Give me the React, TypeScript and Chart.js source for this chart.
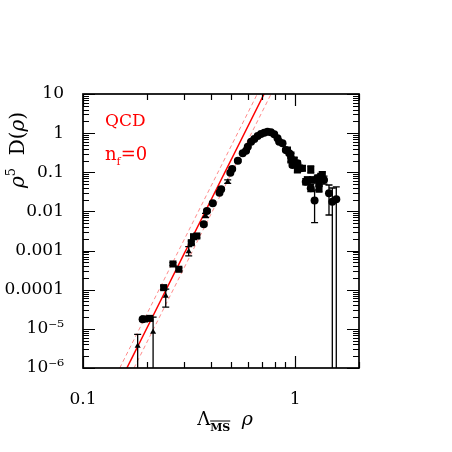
import React, { useEffect, useRef } from "react";
import { Chart, registerables } from "chart.js";

Chart.register(...registerables);

// ---- data ----
const circleX = [0.191, 0.371, 0.384, 0.409, 0.44, 0.448, 0.495, 0.505, 0.537, 0.566, 0.587, 0.598, 0.62, 0.642, 0.666, 0.69, 0.715, 0.741, 0.769, 0.797, 0.826, 0.841, 0.872, 0.904, 0.938, 0.971, 1.025, 1.064, 1.122, 1.185, 1.273, 1.32, 1.368, 1.235, 1.444, 1.497, 1.563];
const circleY = [1.75e-5, 4.7e-3, 0.0103, 0.0161, 0.0301, 0.0368, 0.0977, 0.121, 0.198, 0.305, 0.356, 0.451, 0.605, 0.71, 0.846, 0.95, 1.03, 1.09, 1.05, 0.935, 0.739, 0.605, 0.551, 0.372, 0.305, 0.1536, 0.17, 0.1265, 0.0575, 0.039, 0.0703, 0.0773, 0.0636, 0.019, 0.0291, 0.01774, 0.0204];
const circleLo = [1.6e-5, 4.3e-3, 0.0095, 0.015, 0.028, 0.034, 0.091, 0.113, 0.186, 0.29, 0.34, 0.43, 0.58, 0.68, 0.81, 0.91, 0.99, 1.04, 1.0, 0.89, 0.7, 0.57, 0.52, 0.34, 0.28, 0.135, 0.15, 0.11, 0.048, 0.032, 0.058, 0.064, 0.05, 0.00517, 0.0081, 1e-7, 1e-7];
const circleHi = [1.9e-5, 5.1e-3, 0.0112, 0.0173, 0.0323, 0.04, 0.105, 0.13, 0.21, 0.32, 0.373, 0.47, 0.63, 0.74, 0.88, 0.99, 1.07, 1.14, 1.1, 0.98, 0.78, 0.64, 0.59, 0.41, 0.335, 0.175, 0.195, 0.145, 0.069, 0.048, 0.085, 0.094, 0.08, 0.0353, 0.0474, 0.0397, 0.0422];

const squareX = [0.195, 0.2065, 0.24, 0.2655, 0.283, 0.324, 0.332, 0.344, 0.92, 0.955, 0.989, 1.025, 1.082, 1.185, 1.142, 1.206, 1.296, 1.343, 1.296, 0.955];
const squareY = [1.79e-5, 1.85e-5, 1.13e-4, 4.55e-4, 3.33e-4, 1.59e-3, 2.26e-3, 2.36e-3, 0.37, 0.206, 0.206, 0.1146, 0.1265, 0.118, 0.0636, 0.0636, 0.0524, 0.0853, 0.0386, 0.277];
const squareLo = [1.65e-5, 1.7e-5, 1.02e-4, 4.2e-4, 3.05e-4, 1.45e-3, 2.05e-3, 2.1e-3, 0.34, 0.185, 0.18, 0.1, 0.11, 0.095, 0.053, 0.053, 0.043, 0.07, 0.031, 0.25];
const squareHi = [1.95e-5, 2.0e-5, 1.25e-4, 4.9e-4, 3.6e-4, 1.75e-3, 2.5e-3, 2.6e-3, 0.4, 0.23, 0.235, 0.13, 0.145, 0.145, 0.076, 0.076, 0.064, 0.104, 0.048, 0.305];

const triangleX = [0.181, 0.214, 0.2455, 0.315, 0.378, 0.481];
const triangleY = [3.66e-6, 8.3e-6, 6.9e-5, 9.4e-4, 7.9e-3, 0.0575];
const triangleLo = [1e-7, 1e-7, 3.6e-5, 7.3e-4, 7.0e-3, 0.052];
const triangleHi = [7.2e-6, 2.0e-5, 1.04e-4, 1.26e-3, 8.9e-3, 0.064];

// QCD lines (central and band)
const qcdLineY = [1e-6, 10];
const qcdCentralX = [0.161, 0.714];
const qcdLowerX = [0.149, 0.663];
const qcdUpperX = [0.174, 0.77];

// ticks
const xMajorTicks = [0.1, 1];
const xTickLabels = ["0.1", "1"];
const xMinorTicks = [0.2, 0.3, 0.4, 0.5, 0.6, 0.7, 0.8, 0.9, 2];
const yMajorTicks = [1e-6, 1e-5, 1e-4, 1e-3, 1e-2, 0.1, 1, 10];
const yTickLabels = ["10\u207B\u2076", "10\u207B\u2075", "0.0001", "0.001", "0.01", "0.1", "1", "10"];
const minorMantissas = [2, 3, 4, 5, 6, 7, 8, 9];

const SERIF = "'DejaVu Serif', serif";

const toPoints = (xs: number[], ys: number[]) => xs.map((x, i) => ({ x, y: ys[i] }));

const errorSeries = [
  { x: circleX, lo: circleLo, hi: circleHi },
  { x: squareX, lo: squareLo, hi: squareHi },
  { x: triangleX, lo: triangleLo, hi: triangleHi },
];

type Seg = { text: string; font: string; dy?: number; overline?: boolean };

function measureRich(ctx: CanvasRenderingContext2D, segs: Seg[]) {
  let w = 0;
  for (const s of segs) {
    ctx.font = s.font;
    w += ctx.measureText(s.text).width;
  }
  return w;
}

function drawRich(ctx: CanvasRenderingContext2D, segs: Seg[], x: number, y: number) {
  let cx = x;
  for (const s of segs) {
    ctx.font = s.font;
    const w = ctx.measureText(s.text).width;
    ctx.fillText(s.text, cx, y + (s.dy || 0));
    if (s.overline) {
      const m = ctx.measureText(s.text);
      const top = y + (s.dy || 0) - m.actualBoundingBoxAscent - 2;
      ctx.save();
      ctx.lineWidth = 1;
      ctx.strokeStyle = ctx.fillStyle as string;
      ctx.beginPath();
      ctx.moveTo(cx, top);
      ctx.lineTo(cx + w, top);
      ctx.stroke();
      ctx.restore();
    }
    cx += w;
  }
}

const isClose = (a: number, b: number) => Math.abs(Math.log10(a) - Math.log10(b)) < 1e-6;

const framePlugin = {
  id: "frameAndErrors",
  afterDatasetsDraw(chart: any) {
    const { ctx, chartArea: a, scales } = chart;
    const xs = scales.x;
    const ys = scales.y;
    ctx.save();
    ctx.beginPath();
    ctx.rect(a.left, a.top, a.right - a.left, a.bottom - a.top);
    ctx.clip();
    ctx.strokeStyle = "#000";
    ctx.lineWidth = 1.3;
    const cap = 3.5;
    for (const s of errorSeries) {
      for (let i = 0; i < s.x.length; i++) {
        const px = xs.getPixelForValue(s.x[i]);
        const pl = ys.getPixelForValue(s.lo[i]);
        const ph = ys.getPixelForValue(s.hi[i]);
        ctx.beginPath();
        ctx.moveTo(px, pl);
        ctx.lineTo(px, ph);
        ctx.moveTo(px - cap, ph);
        ctx.lineTo(px + cap, ph);
        ctx.moveTo(px - cap, pl);
        ctx.lineTo(px + cap, pl);
        ctx.stroke();
      }
    }
    ctx.restore();
  },
  afterDraw(chart: any) {
    const { ctx, chartArea: a, scales } = chart;
    const xs = scales.x;
    const ys = scales.y;
    ctx.save();
    ctx.strokeStyle = "#000";
    ctx.lineWidth = 1.7;
    ctx.strokeRect(a.left, a.top, a.right - a.left, a.bottom - a.top);

    ctx.lineWidth = 1.2;
    const major = 12;
    const minor = 6;
    ctx.beginPath();
    const xTick = (v: number, len: number) => {
      const p = Math.round(xs.getPixelForValue(v)) + 0.5;
      ctx.moveTo(p, a.bottom);
      ctx.lineTo(p, a.bottom - len);
      ctx.moveTo(p, a.top);
      ctx.lineTo(p, a.top + len);
    };
    const yTick = (v: number, len: number) => {
      const p = Math.round(ys.getPixelForValue(v)) + 0.5;
      ctx.moveTo(a.left, p);
      ctx.lineTo(a.left + len, p);
      ctx.moveTo(a.right, p);
      ctx.lineTo(a.right - len, p);
    };
    xMajorTicks.forEach((v) => xTick(v, major));
    xMinorTicks.forEach((v) => xTick(v, minor));
    yMajorTicks.forEach((v, i) => {
      yTick(v, major);
      if (i < yMajorTicks.length - 1) minorMantissas.forEach((m) => yTick(m * v, minor));
    });
    ctx.stroke();

    // axis titles
    ctx.fillStyle = "#000";
    ctx.textBaseline = "alphabetic";
    const xTitle: Seg[] = [
      { text: "\u039B", font: `18px ${SERIF}` },
      { text: "MS", font: `bold 11px ${SERIF}`, dy: 6, overline: true },
      { text: "  ", font: `18px ${SERIF}` },
      { text: "\u03C1", font: `italic 19px ${SERIF}` },
    ];
    const wx = measureRich(ctx, xTitle);
    drawRich(ctx, xTitle, (a.left + a.right) / 2 - wx / 2 + 4, 425);

    const yTitle: Seg[] = [
      { text: "\u03C1", font: `italic 20px ${SERIF}` },
      { text: "5", font: `13px ${SERIF}`, dy: -9 },
      { text: "  D(", font: `20px ${SERIF}` },
      { text: "\u03C1", font: `italic 20px ${SERIF}` },
      { text: ")", font: `20px ${SERIF}` },
    ];
    ctx.save();
    ctx.translate(24, 188);
    ctx.rotate(-Math.PI / 2);
    drawRich(ctx, yTitle, 0, 0);
    ctx.restore();

    // red labels
    ctx.fillStyle = "#ff0000";
    drawRich(ctx, [{ text: "QCD", font: `17px ${SERIF}` }], 105, 126);
    drawRich(
      ctx,
      [
        { text: "n", font: `18px ${SERIF}` },
        { text: "f", font: `11px ${SERIF}`, dy: 5 },
        { text: "=0", font: `18px ${SERIF}` },
      ],
      105,
      160
    );
    ctx.restore();
  },
};

export default function App() {
  const ref = useRef<HTMLCanvasElement | null>(null);

  useEffect(() => {
    if (!ref.current) return;
    const chart = new Chart(ref.current, {
      type: "scatter",
      data: {
        datasets: [
          {
            label: "circles",
            data: toPoints(circleX, circleY),
            pointStyle: "circle",
            pointRadius: 4,
            backgroundColor: "#000",
            borderColor: "#000",
            borderWidth: 0,
          },
          {
            label: "squares",
            data: toPoints(squareX, squareY),
            pointStyle: "rect",
            pointRadius: 5,
            backgroundColor: "#000",
            borderColor: "#000",
            borderWidth: 0,
          },
          {
            label: "triangles",
            data: toPoints(triangleX, triangleY),
            pointStyle: "triangle",
            pointRadius: 3.5,
            backgroundColor: "#000",
            borderColor: "#000",
            borderWidth: 0,
          },
          {
            label: "QCD",
            data: toPoints(qcdCentralX, qcdLineY),
            showLine: true,
            pointRadius: 0,
            borderColor: "#ff0000",
            borderWidth: 1.5,
          },
          {
            label: "QCD lower",
            data: toPoints(qcdLowerX, qcdLineY),
            showLine: true,
            pointRadius: 0,
            borderColor: "#ff8a8a",
            borderWidth: 1,
            borderDash: [4, 3],
          },
          {
            label: "QCD upper",
            data: toPoints(qcdUpperX, qcdLineY),
            showLine: true,
            pointRadius: 0,
            borderColor: "#ff8a8a",
            borderWidth: 1,
            borderDash: [4, 3],
          },
        ],
      },
      options: {
        responsive: false,
        animation: false,
        events: [],
        layout: { padding: { left: 0, top: 94, right: 93, bottom: 0 } },
        plugins: { legend: { display: false }, tooltip: { enabled: false } },
        scales: {
          x: {
            type: "logarithmic",
            min: 0.1,
            max: 2,
            grid: { display: false },
            border: { display: false },
            afterBuildTicks: (scale: any) => {
              scale.ticks = xMajorTicks.map((v) => ({ value: v }));
            },
            afterFit: (scale: any) => {
              scale.height = 84;
            },
            ticks: {
              autoSkip: false,
              maxRotation: 0,
              padding: 13,
              color: "#000",
              font: { family: SERIF, size: 17 },
              callback: (v: any) => {
                const i = xMajorTicks.findIndex((t) => isClose(t, Number(v)));
                return i >= 0 ? xTickLabels[i] : "";
              },
            },
          },
          y: {
            type: "logarithmic",
            min: 1e-6,
            max: 10,
            grid: { display: false },
            border: { display: false },
            afterBuildTicks: (scale: any) => {
              scale.ticks = yMajorTicks.map((v) => ({ value: v }));
            },
            afterFit: (scale: any) => {
              scale.width = 83;
            },
            ticks: {
              autoSkip: false,
              padding: 11,
              color: "#000",
              font: { family: SERIF, size: 17 },
              callback: (v: any) => {
                const i = yMajorTicks.findIndex((t) => isClose(t, Number(v)));
                return i >= 0 ? yTickLabels[i] : "";
              },
            },
          },
        },
      },
      plugins: [framePlugin],
    } as any);
    return () => chart.destroy();
  }, []);

  return (
    <div style={{ position: "fixed", left: 0, top: 0, width: 452, height: 452, background: "#fff" }}>
      <canvas ref={ref} width={452} height={452} style={{ display: "block" }} />
    </div>
  );
}
